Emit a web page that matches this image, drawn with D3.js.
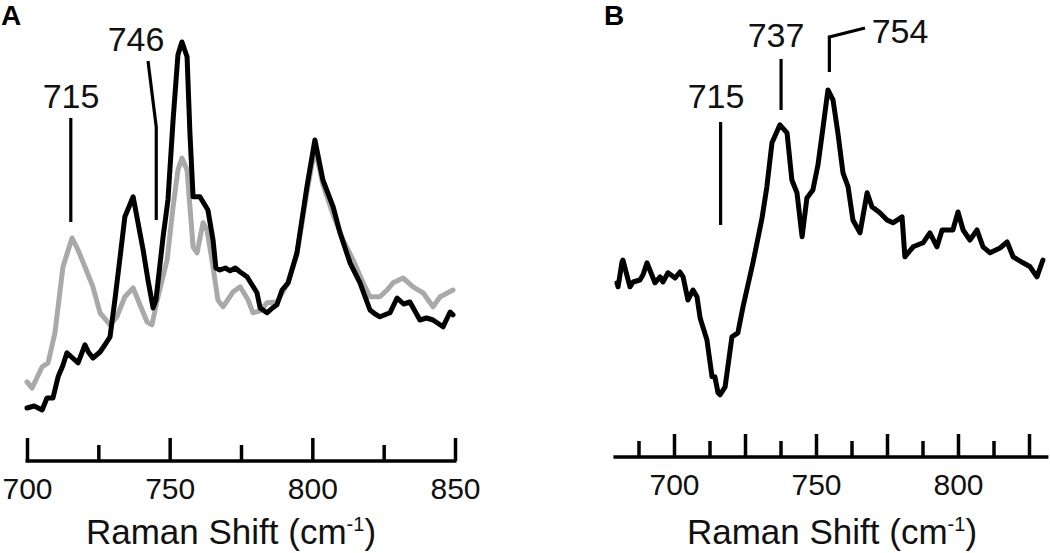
<!DOCTYPE html>
<html>
  <head>
  <title>Raman spectra</title>
  <script src="https://d3js.org/d3.v7.min.js"></script>
  </head>
  <body>
  <svg id="svg" width="1050" height="553"></svg>
  </body>
</html>

<script>
  // panel A: wavenumber / intensity (arb. units)
  const waveA_black = [700.0,702.5,705.3,707.0,709.1,710.9,712.5,714.0,716.0,717.9,720.3,721.5,723.1,725.6,727.5,729.1,730.8,732.5,734.3,737.2,740.7,742.4,744.2,745.2,747.7,749.4,751.2,752.9,754.3,756.1,757.1,758.2,760.6,763.4,765.2,766.2,767.6,769.5,771.2,773.0,774.7,777.1,780.6,781.7,784.1,786.0,787.6,789.4,791.5,794.6,798.1,800.9,803.7,807.3,809.7,813.2,816.7,820.2,822.0,823.7,827.2,829.7,832.0,834.2,837.7,840.0,842.3,845.8,848.3,849.3];
  const intA_black  = [8.0,8.5,7.5,10.5,10.5,15.8,18.5,21.8,20.5,19.3,23.8,22.0,20.5,22.0,24.0,25.8,35.0,45.0,55.8,60.8,47.5,40.0,33.0,35.0,50.8,60.0,80.0,96.3,99.5,95.8,76.8,60.8,60.8,57.5,50.0,43.0,42.5,43.0,42.3,43.0,42.0,40.8,36.8,33.0,31.8,33.0,33.8,37.5,39.3,46.8,63.3,75.0,65.0,58.3,51.8,44.3,39.3,32.5,31.5,30.8,31.8,35.5,34.0,34.5,30.0,30.5,30.0,28.3,32.0,31.3];

  const waveA_gray = [700.0,701.8,705.3,707.4,709.8,712.6,715.8,717.9,720.3,723.1,725.6,729.1,731.5,734.3,737.2,738.9,742.1,743.8,745.9,749.1,751.2,752.9,754.3,756.1,758.2,759.6,761.7,763.1,765.2,766.9,768.7,772.2,774.7,777.5,779.2,781.7,784.1,787.6,791.5,794.6,798.1,800.9,803.7,807.3,810.8,814.3,817.8,820.2,823.7,826.2,828.3,831.8,835.3,838.8,842.3,844.8,849.3];
  const intA_gray  = [14.5,13.0,18.3,19.3,26.8,43.3,50.5,47.5,43.3,38.3,31.8,28.8,30.8,35.8,38.0,35.0,29.5,28.8,35.8,45.0,58.3,67.5,70.5,67.5,48.3,46.8,54.3,52.5,43.3,35.0,33.3,37.0,38.3,35.0,31.8,32.3,34.3,34.5,39.3,46.3,62.0,73.0,63.8,56.3,50.0,45.0,39.3,35.8,35.8,37.5,39.3,40.5,38.3,36.8,33.3,35.8,37.5];

  // panel B: difference spectrum
  const waveB = [679.9,680.3,681.7,682.0,684.5,685.6,688.0,689.1,690.5,691.5,693.3,695.1,696.1,697.9,700.4,702.1,703.2,704.9,706.7,708.1,709.2,711.6,713.4,714.4,715.5,716.2,718.0,720.4,722.5,724.3,727.8,731.0,732.7,734.5,737.3,739.8,741.5,743.3,745.1,746.8,748.9,750.7,752.5,754.2,756.0,757.7,759.5,761.3,763.0,765.5,768.0,769.7,772.5,775.0,777.1,780.3,781.3,784.2,787.7,790.1,792.6,794.4,798.2,800.0,801.8,804.2,806.7,808.8,811.3,814.8,817.3,819.4,822.9,825.4,827.8,829.9];
  const intB  = [39.3,38.3,44.5,45.0,38.3,39.5,40.0,41.3,44.3,42.5,39.3,40.8,39.5,41.8,40.5,42.0,40.8,35.0,37.5,35.8,30.5,25.0,15.8,15.8,11.8,11.3,13.3,25.8,26.8,33.3,44.3,55.5,63.3,74.3,78.8,76.8,65.0,61.8,50.8,60.5,62.5,68.8,78.3,87.5,85.0,76.8,66.8,63.3,55.0,51.8,61.8,58.3,56.8,55.0,54.3,55.8,45.8,48.3,49.3,51.8,48.3,52.5,52.5,57.0,52.5,50.0,52.5,48.3,46.8,48.0,49.5,45.8,44.3,43.3,40.8,45.0];

  const majorA = [700, 750, 800, 850];
  const minorA = [725, 775, 825];
  const labelsA = [700, 750, 800, 850];
  const majorB = [700, 725, 750, 775, 800, 825];
  const minorB = [687.5, 712.5, 737.5, 762.5, 787.5, 812.5];
  const labelsB = [700, 750, 800];

  const peaksA = [715, 746];
  const peaksB = [715, 737, 754];

  const svg = d3.select("#svg");
  const font = "'Liberation Sans', Arial, Helvetica, sans-serif";

  const xA = d3.scaleLinear().domain([700, 850]).range([27, 455]);
  const xB = d3.scaleLinear().domain([700, 750]).range([674, 816]);
  const y = d3.scaleLinear().domain([0, 100]).range([440, 40]);

  const line = (xs, wave, ints) => d3.line()
      .x((d, i) => xs(wave[i]))
      .y(d => y(d))(ints);

  function curve(d, color) {
    svg.append("path")
      .attr("d", d)
      .style("fill", "none").style("stroke", color)
      .style("stroke-width", 5).style("stroke-linejoin", "round").style("stroke-linecap", "round");
  }
  curve(line(xA, waveA_gray, intA_gray), "#a9a9a9");
  curve(line(xA, waveA_black, intA_black), "#000");
  curve(line(xB, waveB, intB), "#000");

  // axes (ticks point up, labels below)
  function drawAxis(xs, baseY, majors, minors, labels, domain) {
    const g = svg.append("g").attr("transform", `translate(0,${baseY})`);
    g.append("g").call(d3.axisBottom(xs).tickValues(minors).tickSize(-16).tickFormat(""))
      .call(a => a.select(".domain").remove());
    g.append("g").call(d3.axisBottom(xs).tickValues(majors).tickSize(-23).tickSizeOuter(0)
        .tickFormat(d => labels.includes(d) ? d : "").tickPadding(17))
      .call(a => a.select(".domain").remove());
    g.append("line")
      .attr("x1", xs(domain[0]) - 1.5).attr("x2", xs(domain[1]) + 1.5)
      .style("stroke", "#000").style("stroke-width", 3.5);
    g.selectAll(".tick line").style("stroke", "#000").style("stroke-width", 3.5);
    g.selectAll(".tick text").style("font-family", font).style("font-size", "30px").style("fill", "#111");
  }
  drawAxis(xA, 461, majorA, minorA, labelsA, [700, 850]);
  drawAxis(xB, 457, majorB, minorB, labelsB, [679.2, 831.3]);

  // axis titles
  function axisTitle(cx, by) {
    const t = svg.append("text").attr("x", cx).attr("y", by)
      .attr("text-anchor", "middle")
      .style("font-family", font).style("font-size", "35px").style("fill", "#111");
    t.append("tspan").text("Raman Shift (cm");
    t.append("tspan").text("-1").attr("dy", -13).style("font-size", "20px");
    t.append("tspan").text(")").attr("dy", 13);
  }
  axisTitle(231, 544);
  axisTitle(832, 544);

  // panel letters
  svg.append("text").attr("x", 1).attr("y", 25).text("A")
    .style("font-family", font).style("font-weight", "bold").style("font-size", "28px");
  svg.append("text").attr("x", 604).attr("y", 25).text("B")
    .style("font-family", font).style("font-weight", "bold").style("font-size", "28px");

  // peak annotations
  const ann = (x1, y1, x2, y2) => svg.append("line")
      .attr("x1", x1).attr("y1", y1).attr("x2", x2).attr("y2", y2)
      .style("stroke", "#000").style("stroke-width", 3.2);
  const lab = (x, yy, t) => svg.append("text").attr("x", x).attr("y", yy)
      .attr("text-anchor", "middle").text(t)
      .style("font-family", font).style("font-size", "34px").style("fill", "#111");

  ann(xA(peaksA[0]) + 1, 118, xA(peaksA[0]) + 1, 222);
  lab(71, 108, peaksA[0]);
  svg.append("polyline")
    .attr("points", `148,61 ${xA(peaksA[1]) - 2},127 ${xA(peaksA[1]) - 2},220`)
    .style("fill", "none").style("stroke", "#000").style("stroke-width", 3.2);
  lab(136, 51, peaksA[1]);

  ann(xB(peaksB[0]) + 4, 122, xB(peaksB[0]) + 4, 225);
  lab(716, 108, peaksB[0]);
  ann(xB(peaksB[1]) + 2, 59, xB(peaksB[1]) + 2, 110);
  lab(776, 47, peaksB[1]);
  svg.append("polyline")
    .attr("points", `${xB(peaksB[2]) + 2},72 ${xB(peaksB[2]) + 2},37 865,28`)
    .style("fill", "none").style("stroke", "#000").style("stroke-width", 3.2);
  lab(900, 43, peaksB[2]);
</script>

<style>
  body { margin: 0; background: #fff; }
  svg { display: block; }
</style>
